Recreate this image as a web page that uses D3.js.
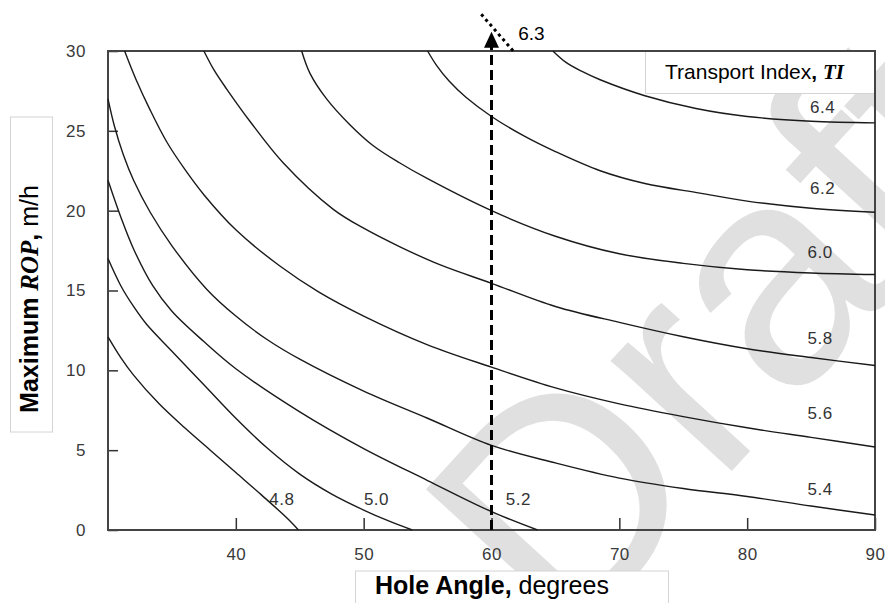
<!DOCTYPE html>
<html>
<head>
<meta charset="utf-8">
<script src="https://cdn.jsdelivr.net/npm/d3@7"></script>
<style>
  body { margin: 0; background: #fff; }
  svg { display: block; font-family: Arial, "Liberation Sans", sans-serif; }
</style>
</head>
<body>
<svg id="chart" width="885" height="603"></svg>
<script>
// contour lines of transport index, [hole angle, max ROP]
var ti48 = [[30, 12.1], [31, 10.8], [32, 9.7], [34, 7.9], [36, 6.4], [38, 5.0], [40, 3.6], [42, 2.2], [44, 0.75], [44.9, 0]];
var ti50 = [[30, 17], [31, 15.3], [32, 14.0], [33, 12.9], [35, 11.2], [37.5, 9.1], [40, 7.0], [42.5, 5.1], [45, 3.5], [47.5, 2.25], [50, 1.25], [52, 0.55], [53.8, 0]];
var ti52 = [[30, 21.9], [31, 19.6], [32, 17.6], [33.5, 15.3], [35, 13.7], [37.5, 11.8], [40, 10.1], [45, 7.4], [50, 5.1], [55, 3.1], [60, 1.15], [63.6, 0]];
var ti54 = [[30, 27], [30.5, 25.3], [31.2, 23.5], [32, 21.9], [33.3, 19.9], [35, 17.8], [37.7, 15.1], [40, 13.4], [42.5, 11.9], [45, 10.7], [50, 8.7], [55, 7.0], [60, 5.3], [65, 4.2], [70, 3.25], [75, 2.6], [80, 2.1], [85, 1.5], [90, 0.94]];
var ti56 = [[31.3, 30], [32.2, 28.2], [33.3, 26.3], [34.6, 24.3], [36, 22.6], [37.5, 21.0], [40, 18.8], [43.5, 16.5], [46.5, 14.9], [50, 13.4], [55, 11.6], [60, 10.2], [65, 8.9], [70, 7.9], [75, 7.1], [80, 6.4], [85, 5.8], [90, 5.2]];
var ti58 = [[37.5, 30], [38.3, 28.8], [39.3, 27.6], [41.1, 25.6], [43.7, 23.0], [47.6, 20.1], [50, 18.9], [52.8, 17.75], [56, 16.6], [60, 15.45], [65, 14.0], [70, 13.0], [75, 12.1], [80, 11.35], [85, 10.8], [90, 10.3]];
var ti60 = [[45.15, 30], [45.8, 28.6], [47.1, 27.0], [48.9, 25.4], [50.7, 24.1], [52.8, 23.0], [55, 22.0], [60, 20.0], [65, 18.4], [70, 17.3], [75, 16.7], [80, 16.3], [85, 16.1], [90, 16.0]];
var ti62 = [[55, 30], [55.7, 29.1], [56.7, 28.1], [58, 27.1], [60, 25.9], [62.5, 24.7], [65, 23.7], [68.5, 22.5], [72, 21.7], [76.3, 21.1], [80, 20.6], [85, 20.15], [90, 19.9]];
var ti64 = [[64.8, 30], [65.8, 29.3], [67, 28.75], [68.5, 28.2], [72, 27.2], [76, 26.4], [80, 25.9], [85, 25.6], [90, 25.5]];
var ti63 = [[59.2, 32.3], [61.7, 30.0]]; // dotted piece above the frame

var contours = [ti48, ti50, ti52, ti54, ti56, ti58, ti60, ti62, ti64];
var contourLabels = ["4.8", "5.0", "5.2", "5.4", "5.6", "5.8", "6.0", "6.2", "6.4"];
var labelPos = [[43.6, 1.95], [51.0, 1.95], [62.1, 1.95], [85.7, 2.55], [85.7, 7.33], [85.7, 12.0], [85.7, 17.4], [85.9, 21.4], [85.9, 26.5]];

var xTicks = [40, 50, 60, 70, 80, 90];
var yTicks = [0, 5, 10, 15, 20, 25, 30];
var guideX = 60, guideTop = 31.2;

var svg = d3.select("#chart");
var x = d3.scaleLinear().domain([30, 90]).range([108, 875]);
var y = d3.scaleLinear().domain([0, 30]).range([530, 51]);

// watermark
svg.append("text")
    .attr("transform", "translate(566,652) rotate(-47.5)")
    .attr("font-size", 310)
    .attr("fill", "#e0e0e0")
    .text("Draft");

// axis title boxes
svg.append("rect").attr("x", 10.5).attr("y", 117).attr("width", 42).attr("height", 315)
    .attr("fill", "#fff").attr("stroke", "#d4d4d4");
svg.append("rect").attr("x", 355.5).attr("y", 571).attr("width", 313).attr("height", 45)
    .attr("fill", "#fff").attr("stroke", "#d4d4d4");

// legend box
svg.append("rect").attr("x", 645.5).attr("y", 51).attr("width", 230).attr("height", 42.5)
    .attr("fill", "#fff").attr("stroke", "#d4d4d4");
var lt = svg.append("text").attr("x", 665).attr("y", 79).attr("font-size", 21).attr("fill", "#000");
lt.append("tspan").text("Transport Index");
lt.append("tspan").attr("font-weight", "bold").text(", ");
lt.append("tspan").attr("font-weight", "bold").attr("font-style", "italic")
    .attr("font-family", "'Times New Roman', 'Liberation Serif', serif").text("TI");

// axes
var yAxis = svg.append("g").attr("transform", "translate(108,0)")
    .call(d3.axisLeft(y).tickValues(yTicks).tickSize(-10).tickPadding(22));
var xAxis = svg.append("g").attr("transform", "translate(0,530)")
    .call(d3.axisBottom(x).tickValues(xTicks).tickSize(-12).tickPadding(18));
[yAxis, xAxis].forEach(function (g) {
    g.select(".domain").remove();
    g.selectAll(".tick line").attr("stroke", "#333").attr("stroke-width", 1.5);
    g.selectAll(".tick text").attr("font-size", 17).attr("fill", "#3a3a3a")
        .attr("font-family", "Arial, 'Liberation Sans', sans-serif").attr("letter-spacing", 0.5);
});

// frame
svg.append("rect").attr("x", x(30)).attr("y", y(30))
    .attr("width", x(90) - x(30)).attr("height", y(0) - y(30))
    .attr("fill", "none").attr("stroke", "#444").attr("stroke-width", 2);

// contour lines
var line = d3.line()
    .x(function (d) { return x(d[0]); })
    .y(function (d) { return y(d[1]); })
    .curve(d3.curveCatmullRom.alpha(0.5));

svg.append("g").selectAll("path").data(contours).enter().append("path")
    .attr("d", line)
    .attr("fill", "none").attr("stroke", "#1a1a1a").attr("stroke-width", 1.4);

svg.append("g").selectAll("text").data(contourLabels).enter().append("text")
    .attr("x", function (d, i) { return x(labelPos[i][0]); })
    .attr("y", function (d, i) { return y(labelPos[i][1]); })
    .attr("dy", "0.35em")
    .attr("text-anchor", "middle")
    .attr("font-size", 17).attr("fill", "#333").attr("letter-spacing", 0.5)
    .text(function (d) { return d; });

// 6.3 dotted extension
svg.append("path").attr("d", d3.line().x(function (d) { return x(d[0]); }).y(function (d) { return y(d[1]); })(ti63))
    .attr("fill", "none").attr("stroke", "#000").attr("stroke-width", 3).attr("stroke-dasharray", "3,3.5");
svg.append("text").attr("x", x(61.7) + 5).attr("y", y(31.2) + 8)
    .attr("font-size", 19).attr("fill", "#000").text("6.3");

// dashed guide at 60 degrees with arrow
svg.append("line")
    .attr("x1", x(guideX)).attr("x2", x(guideX))
    .attr("y1", y(0)).attr("y2", y(guideTop) + 14)
    .attr("stroke", "#000").attr("stroke-width", 3).attr("stroke-dasharray", "10,5");
svg.append("path")
    .attr("d", d3.line()([[x(guideX), y(guideTop)], [x(guideX) - 7.5, y(guideTop) + 16], [x(guideX) + 7.5, y(guideTop) + 16]]) + "Z")
    .attr("fill", "#000");

// axis titles
var yt = svg.append("text").attr("transform", "translate(38,299) rotate(-90)")
    .attr("text-anchor", "middle").attr("font-size", 25).attr("fill", "#000");
yt.append("tspan").attr("font-weight", "bold").text("Maximum ");
yt.append("tspan").attr("font-weight", "bold").attr("font-style", "italic")
    .attr("font-family", "'Times New Roman', 'Liberation Serif', serif").text("ROP");
yt.append("tspan").attr("font-weight", "bold").text(",");
yt.append("tspan").text(" m/h");

var xt = svg.append("text").attr("x", 375).attr("y", 594).attr("font-size", 25).attr("fill", "#000");
xt.append("tspan").attr("font-weight", "bold").text("Hole Angle,");
xt.append("tspan").text(" degrees");
</script>
</body>
</html>
